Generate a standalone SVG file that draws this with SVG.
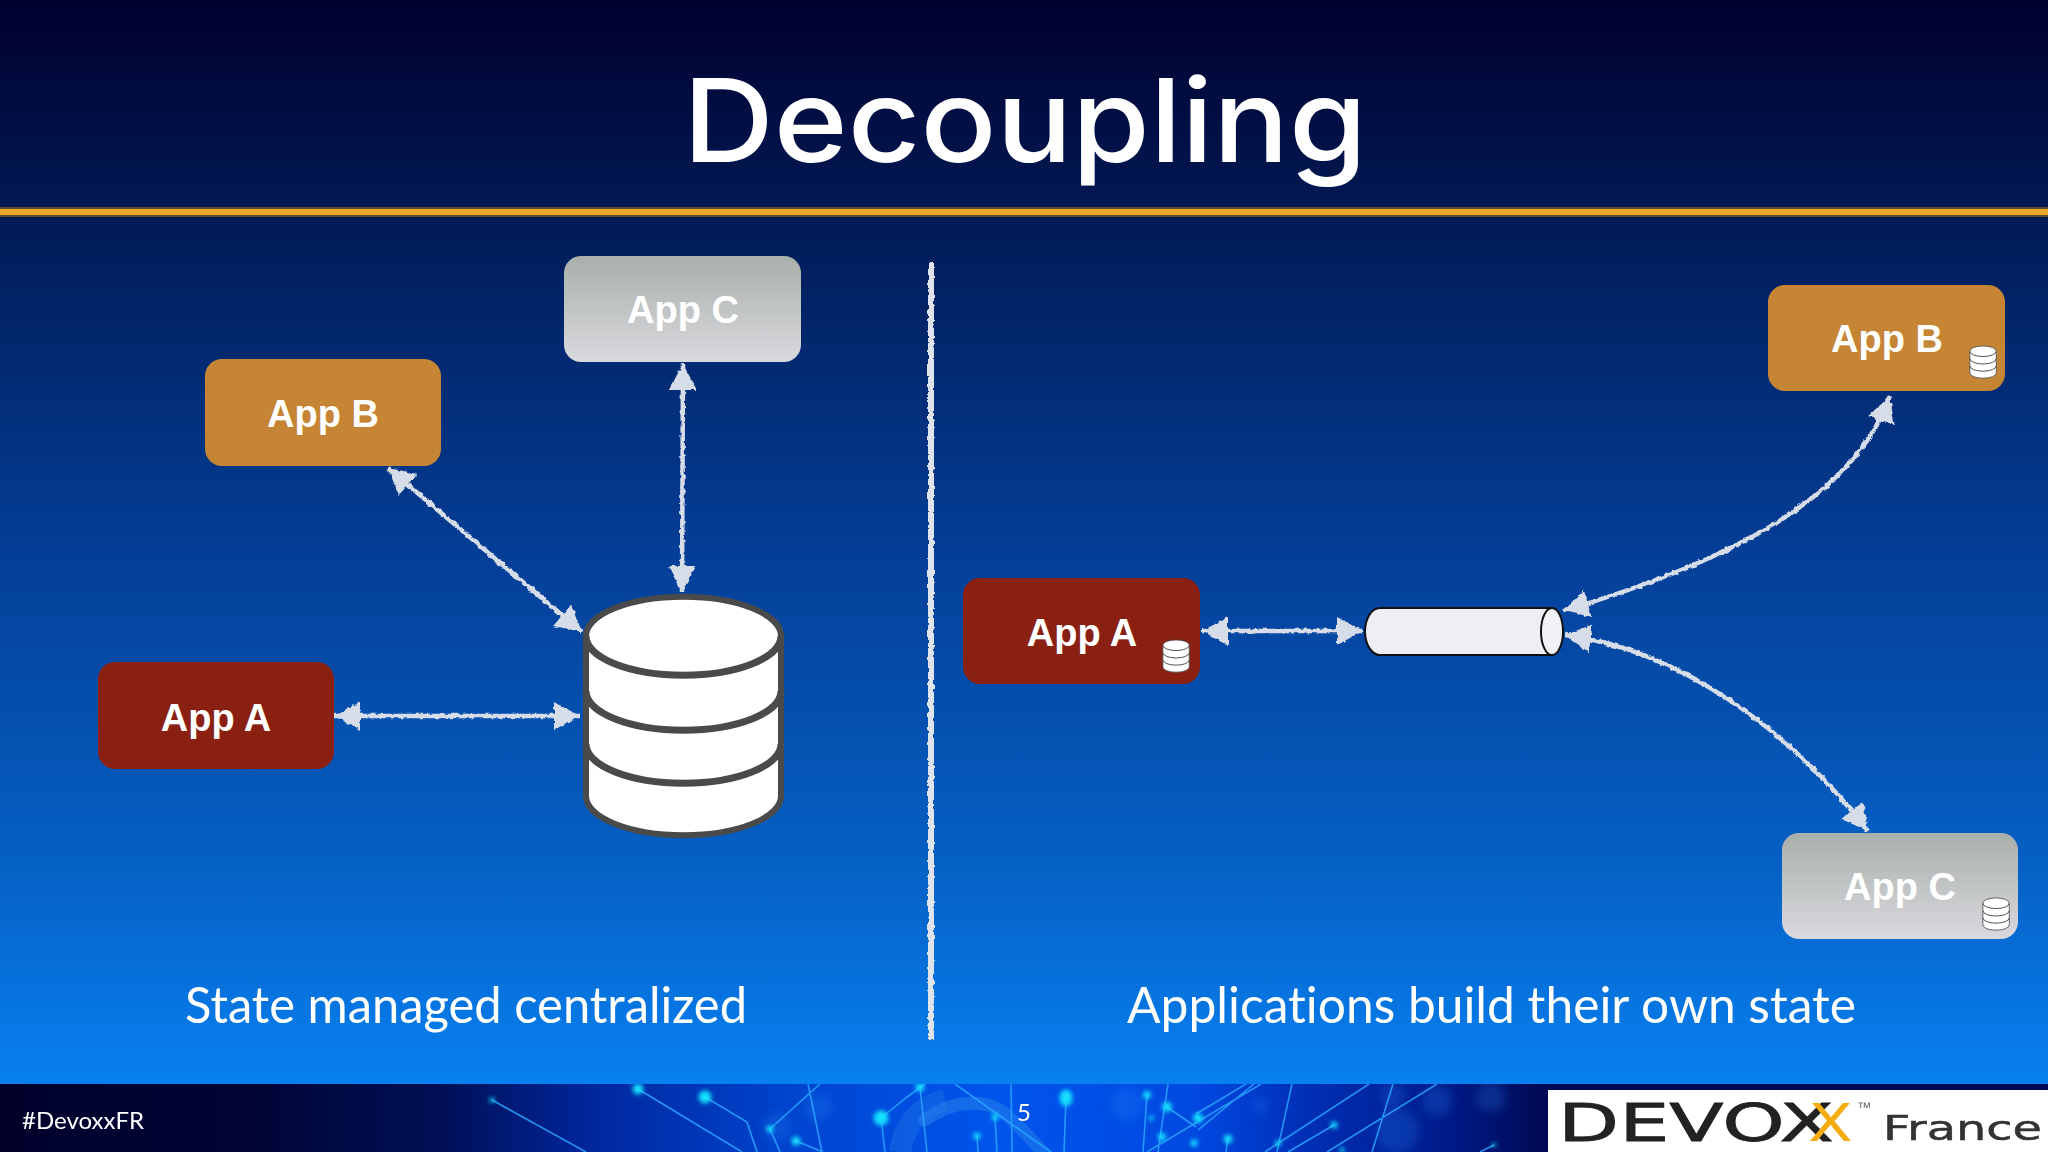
<svg xmlns="http://www.w3.org/2000/svg" xmlns:xlink="http://www.w3.org/1999/xlink" width="2048" height="1152" viewBox="0 0 2048 1152">
<style>
.sans{font-family:"Lato","Open Sans",sans-serif;fill:#fff;font-variant-ligatures:none}
.app{font-family:"Liberation Sans",Arial,sans-serif;font-weight:700;font-size:38px;fill:#fff;text-anchor:middle}
.sub{font-size:50px}
.conn{fill:none;stroke:#d6dce8;stroke-width:4.5;marker-start:url(#arrow);marker-end:url(#arrow)}
.db{stroke:#4a4a4a;stroke-width:6;fill:#fff}
.dbl{stroke:#4a4a4a;stroke-width:7;fill:none}
.net{stroke:#2aa6ff;stroke-width:1.6;fill:none;opacity:.85}
.spot{fill:#12e0ff}
.bokeh{fill:#2a8cff;opacity:.22}
</style>
<defs>
<linearGradient id="bg" x1="0" y1="0" x2="0" y2="1152" gradientUnits="userSpaceOnUse">
<stop offset="0" stop-color="#00002e"/><stop offset=".188" stop-color="#011a55"/><stop offset=".486" stop-color="#043f98"/><stop offset=".747" stop-color="#0560c4"/><stop offset=".94" stop-color="#0880f0"/>
</linearGradient>
<linearGradient id="foot" x1="0" y1="0" x2="2048" y2="0" gradientUnits="userSpaceOnUse">
<stop offset="0" stop-color="#00002a"/><stop offset=".122" stop-color="#000535"/><stop offset=".215" stop-color="#000f55"/><stop offset=".293" stop-color="#0028a0"/><stop offset=".39" stop-color="#0045d0"/><stop offset=".488" stop-color="#0055ec"/><stop offset=".586" stop-color="#0048e0"/><stop offset=".635" stop-color="#0030b8"/><stop offset=".708" stop-color="#001a88"/><stop offset=".752" stop-color="#000a55"/>
</linearGradient>
<linearGradient id="grey" x1="0" y1="0" x2="0" y2="1">
<stop offset="0" stop-color="#a9afab"/><stop offset="1" stop-color="#d9d9de"/>
</linearGradient>
<filter id="rough" filterUnits="userSpaceOnUse" x="0" y="0" width="2048" height="1152">
<feTurbulence type="fractalNoise" baseFrequency=".2" numOctaves="2" seed="4"/>
<feDisplacementMap in="SourceGraphic" scale="4" xChannelSelector="R" yChannelSelector="G"/>
</filter>
<filter id="glow" x="-150%" y="-150%" width="400%" height="400%"><feGaussianBlur stdDeviation="2"/></filter>
<filter id="soft" x="-50%" y="-50%" width="200%" height="200%"><feGaussianBlur stdDeviation="5"/></filter>
<marker id="arrow" viewBox="0 0 26 28" refX="26" refY="14" markerWidth="26" markerHeight="28" markerUnits="userSpaceOnUse" orient="auto-start-reverse">
<path d="M0 0L26 14L0 28Z" fill="#d6dce8"/>
</marker>
<symbol id="dbicon" viewBox="580 590 206 251">
<path class="db" d="M586 636A97 39 0 0 1 781 636V796A97 39 0 0 1 586 796Z"/>
<path class="dbl" d="M586 636A97 39 0 0 0 781 636M586 691A97 39 0 0 0 781 691M586 744A97 39 0 0 0 781 744"/>
</symbol>
</defs>
<rect width="2048" height="1152" fill="url(#bg)"/>
<rect y="207" width="2048" height="10" fill="#5c4e2a"/>
<rect y="209" width="2048" height="6" fill="#eaa82a"/>
<text id="title" x="683" y="162" font-family="Inter,sans-serif" font-weight="500" fill="#fff" font-size="116" textLength="684" lengthAdjust="spacingAndGlyphs">Decoupling</text>

<path id="divider" d="M931 263V1040" fill="none" stroke="#dfe4ec" stroke-width="6" filter="url(#rough)"/>

<g id="connectors" filter="url(#rough)">
<path class="conn" d="M334 716H580"/>
<path class="conn" d="M388 468L582 632"/>
<path class="conn" d="M683 364L682 592"/>
<path class="conn" d="M1202 631H1363"/>
<path class="conn" d="M1563 611C1700 570 1850 510 1890 396"/>
<path class="conn" d="M1565 635C1680 650 1790 730 1868 831"/>
</g>

<g id="left-app-c"><rect x="564" y="256" width="237" height="106" rx="17" fill="url(#grey)"/><text class="app" x="683" y="323">App C</text></g>
<g id="left-app-b"><rect x="205" y="359" width="236" height="107" rx="17" fill="#c58535"/><text class="app" x="323" y="427">App B</text></g>
<g id="left-app-a"><rect x="98" y="662" width="236" height="107" rx="17" fill="#8a2012"/><text class="app" x="216" y="731">App A</text></g>
<g id="left-db"><use xlink:href="#dbicon" href="#dbicon" x="580" y="590" width="206" height="251"/></g>

<g id="right-app-a"><rect x="963" y="578" width="237" height="106" rx="17" fill="#8a2012"/><text class="app" x="1082" y="646">App A</text><use xlink:href="#dbicon" href="#dbicon" x="1162" y="639" width="28" height="34"/></g>
<g id="right-app-b"><rect x="1768" y="285" width="237" height="106" rx="17" fill="#c58535"/><text class="app" x="1887" y="352">App B</text><use xlink:href="#dbicon" href="#dbicon" x="1969" y="345" width="28" height="34"/></g>
<g id="right-app-c"><rect x="1782" y="833" width="236" height="106" rx="17" fill="url(#grey)"/><text class="app" x="1900" y="900">App C</text><use xlink:href="#dbicon" href="#dbicon" x="1982" y="897" width="28" height="34"/></g>
<g id="topic"><path d="M1552 608H1380A15 23.500 0 0 0 1380 655H1552" fill="#eeeff3" stroke="#111" stroke-width="2"/><ellipse cx="1552" cy="631.500" rx="11" ry="23.500" fill="#f1f2f5" stroke="#111" stroke-width="2"/></g>

<text class="sans sub" x="185" y="1023" textLength="562" lengthAdjust="spacingAndGlyphs">State managed centralized</text>
<text class="sans sub" x="1127" y="1023" textLength="729" lengthAdjust="spacingAndGlyphs">Applications build their own state</text>

<g id="footer">
<rect y="1084" width="2048" height="68" fill="url(#foot)"/>
<clipPath id="fc"><rect y="1084" width="1548" height="68"/></clipPath>
<g clip-path="url(#fc)">
<g filter="url(#soft)">
<circle class="bokeh" cx="818" cy="1107" r="14"/><circle class="bokeh" cx="777" cy="1127" r="14"/><circle class="bokeh" cx="1127" cy="1104" r="17"/><circle class="bokeh" cx="1260" cy="1106" r="8"/><circle class="bokeh" cx="1437" cy="1101" r="15"/><circle class="bokeh" cx="1491" cy="1097" r="15"/><circle class="bokeh" cx="1397" cy="1131" r="22"/><circle class="bokeh" cx="1393" cy="1096" r="12"/>
</g>
<path d="M925 1120C955 1098 990 1098 1010 1118C1025 1132 1036 1144 1048 1158" fill="none" stroke="#2f8cec" stroke-width="13" opacity=".45" stroke-linecap="round"/>
<path d="M900 1152C905 1120 925 1105 945 1100" fill="none" stroke="#2a86e8" stroke-width="22" opacity=".3"/>
<path class="net" d="M492 1100L586 1152M638 1089L742 1152M705 1097L747 1122L757 1152M820 1084L770 1129L780 1152M808 1084L822 1152M796 1141L823 1152M881 1118L907 1097L925 1084M881 1118L885 1152M920 1087L927 1152M1066 1098L1064 1152M995 1117L997 1152M977 1136L978 1152M1011 1084L1012 1152M955 1084L1051 1152M1147 1095L1143 1152M1168 1084L1158 1152M1167 1107L1196 1127M1261 1084L1147 1152M1254 1084L1198 1130M1246 1084L1196 1114M1292 1084L1277 1152M1369 1084L1265 1152M1334 1125L1288 1152M1393 1084L1372 1152M1437 1084L1327 1152M1494 1145L1480 1152M1228 1139L1226 1152"/>
<g filter="url(#glow)">
<circle class="spot" cx="492" cy="1100" r="2.500"/><circle class="spot" cx="638" cy="1089" r="5.500"/><circle class="spot" cx="705" cy="1097" r="6.500"/><circle class="spot" cx="770" cy="1129" r="3.500"/><circle class="spot" cx="796" cy="1141" r="4.500"/><circle class="spot" cx="881" cy="1118" r="7.500"/><circle class="spot" cx="920" cy="1087" r="4.500"/><ellipse class="spot" cx="1066" cy="1098" rx="6.500" ry="8.500"/><circle class="spot" cx="995" cy="1117" r="3.500"/><circle class="spot" cx="977" cy="1136" r="3.500"/><circle class="spot" cx="1147" cy="1095" r="4"/><circle class="spot" cx="1167" cy="1107" r="5"/><circle class="spot" cx="1151" cy="1118" r="2.500"/><circle class="spot" cx="1162" cy="1137" r="4"/><circle class="spot" cx="1198" cy="1118" r="5"/><circle class="spot" cx="1194" cy="1143" r="3.500"/><circle class="spot" cx="1228" cy="1139" r="4.500"/><circle class="spot" cx="1278" cy="1143" r="3"/><circle class="spot" cx="1334" cy="1125" r="3.500"/><circle class="spot" cx="1342" cy="1150" r="2.500"/><circle class="spot" cx="1494" cy="1145" r="2"/>
</g>
</g>
<text class="sans" x="22" y="1129" font-size="23" textLength="122" lengthAdjust="spacingAndGlyphs">#DevoxxFR</text>
<text class="sans" x="1024" y="1121" font-size="24" text-anchor="middle">5</text>
<g id="logo">
<rect x="1548" y="1090" width="500" height="62" fill="#fff"/>
<text x="1558" y="1141" font-family="'DejaVu Sans',sans-serif" font-size="52" fill="#222" stroke="#222" stroke-width=".8" textLength="276" lengthAdjust="spacingAndGlyphs">DEVOX</text>
<text x="1808" y="1141" font-family="'DejaVu Sans',sans-serif" font-size="52" fill="#f5ac10" textLength="45" lengthAdjust="spacingAndGlyphs">X</text>
<text x="1857" y="1112" font-family="'Liberation Sans',sans-serif" font-size="14" fill="#666">™</text>
<text x="1883" y="1140" font-family="'DejaVu Sans',sans-serif" font-size="34" fill="#333" stroke="#333" stroke-width=".5" textLength="159" lengthAdjust="spacingAndGlyphs">France</text>
</g>
</g>
</svg>
